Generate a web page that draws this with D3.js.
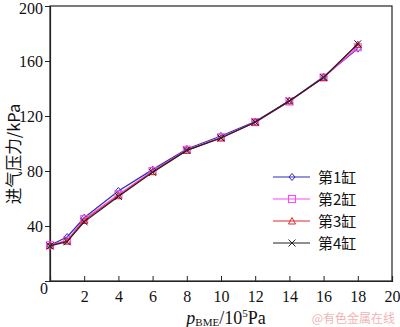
<!DOCTYPE html>
<html><head><meta charset="utf-8">
<script src="https://cdn.jsdelivr.net/npm/d3@7"></script>
<style>body{margin:0;background:#fff}svg{display:block}</style>
</head><body>
<script>
const xValues = [0, 1, 2, 4, 6, 8, 10, 12, 14, 16, 18];
const cyl1 = [26, 32, 46, 65.5, 81, 96, 105.5, 116, 131, 148.5, 169];
const cyl2 = [26, 29.5, 45, 63, 80, 95.5, 104.5, 115.5, 130.5, 148, 170];
const cyl3 = [26, 29, 44, 62, 79.5, 95, 104, 115.5, 131, 148, 172];
const cyl4 = [25.5, 28.5, 43, 61.5, 79, 95, 104, 115.5, 131, 148, 172.5];
const seriesNames = ["第1缸", "第2缸", "第3缸", "第4缸"];
const xTicks = [2, 4, 6, 8, 10, 12, 14, 16, 18, 20];
const yTicks = [40, 80, 120, 160, 200];

const W = 400, H = 327;
const L = 50, R = 392, T = 6, B = 281;
const svg = d3.select("body").append("svg").attr("width", W).attr("height", H);
const x = d3.scaleLinear().domain([0, 20]).range([L, R]);
const y = d3.scaleLinear().domain([0, 200]).range([B, T]);
const serif = "'Liberation Serif','Times New Roman',serif";

const styles = [
  {color: "#2b2bbf", marker: "diamond"},
  {color: "#ff44ff", marker: "square"},
  {color: "#e02a2a", marker: "triangle"},
  {color: "#222222", marker: "cross"}
];
const data = [cyl1, cyl2, cyl3, cyl4];

// frame
svg.append("rect").attr("x", L).attr("y", T).attr("width", R - L).attr("height", B - T)
  .attr("fill", "none").attr("stroke", "#222").attr("stroke-width", 1.2);

// x axis (ticks inward)
const xAxis = svg.append("g").attr("transform", `translate(0,${B})`)
  .call(d3.axisBottom(x).tickValues(xTicks).tickSize(-5).tickPadding(10).tickFormat(d3.format("d")));
xAxis.select(".domain").attr("stroke", "#222").attr("stroke-width", 1.2);
xAxis.selectAll(".tick line").attr("stroke", "#222");
xAxis.selectAll(".tick text").attr("font-family", serif).attr("font-size", 16).attr("fill", "#111");

// y axis (ticks outward)
const yAxis = svg.append("g").attr("transform", `translate(${L},0)`)
  .call(d3.axisLeft(y).tickValues(yTicks).tickSize(5).tickPadding(2).tickFormat(d3.format("d")));
yAxis.select(".domain").attr("stroke", "#222").attr("stroke-width", 1.2);
yAxis.selectAll(".tick line").attr("stroke", "#222");
yAxis.selectAll(".tick text").attr("font-family", serif).attr("font-size", 16).attr("fill", "#111");
yAxis.selectAll(".tick text").filter(d => d === 200).attr("dy", "0.45em");

// origin label
svg.append("text").attr("x", 44).attr("y", 294).attr("text-anchor", "middle")
  .attr("font-family", serif).attr("font-size", 16).attr("fill", "#111").text("0");

function drawMarker(g, type, cx, cy, color) {
  if (type === "diamond") {
    g.append("path").attr("d", `M${cx},${cy-3.5}L${cx+3},${cy}L${cx},${cy+3.5}L${cx-3},${cy}Z`)
      .attr("fill", "none").attr("stroke", color).attr("stroke-width", 1);
  } else if (type === "square") {
    g.append("rect").attr("x", cx - 3.5).attr("y", cy - 3.5).attr("width", 7).attr("height", 7)
      .attr("fill", "none").attr("stroke", color).attr("stroke-width", 1);
  } else if (type === "triangle") {
    g.append("path").attr("d", `M${cx},${cy-3.5}L${cx+3.5},${cy+3}L${cx-3.5},${cy+3}Z`)
      .attr("fill", "none").attr("stroke", color).attr("stroke-width", 1);
  } else {
    g.append("path").attr("d", `M${cx-3.5},${cy-3.5}L${cx+3.5},${cy+3.5}M${cx-3.5},${cy+3.5}L${cx+3.5},${cy-3.5}`)
      .attr("fill", "none").attr("stroke", color).attr("stroke-width", 1);
  }
}

const line = d3.line().x((d, i) => x(xValues[i])).y(d => y(d));
data.forEach((vals, si) => {
  const g = svg.append("g");
  g.append("path").datum(vals).attr("d", line).attr("fill", "none")
    .attr("stroke", styles[si].color).attr("stroke-width", 1.2);
  vals.forEach((v, i) => drawMarker(g, styles[si].marker, x(xValues[i]), y(v), styles[si].color));
});

// legend
const legY0 = 177, legDy = 22;
seriesNames.forEach((name, i) => {
  const yy = legY0 + i * legDy;
  const g = svg.append("g");
  g.append("line").attr("x1", 273).attr("x2", 310).attr("y1", yy).attr("y2", yy)
    .attr("stroke", styles[i].color).attr("stroke-width", 1.2);
  drawMarker(g, styles[i].marker, 292, yy, styles[i].color);
  g.append("text").attr("x", 318).attr("y", yy + 5.5).attr("font-family", "'Noto Sans CJK SC'," + serif)
    .attr("font-size", 15).attr("fill", "#111").text(name);
});

// y title
svg.append("text").attr("transform", "translate(20,154) rotate(-90)").attr("text-anchor", "middle")
  .attr("font-family", "'Noto Sans CJK SC'," + serif).attr("font-size", 16.5).attr("fill", "#111")
  .text("进气压力/kPa");

// x title
const xt = svg.append("text").attr("x", 226).attr("y", 324).attr("text-anchor", "middle")
  .attr("font-family", serif).attr("font-size", 18).attr("fill", "#111");
xt.append("tspan").attr("font-style", "italic").text("p");
xt.append("tspan").attr("font-size", 11).attr("dy", 2).text("BME");
xt.append("tspan").attr("dy", -2).text("/10");
xt.append("tspan").attr("font-size", 11).attr("dy", -7).text("5");
xt.append("tspan").attr("dy", 7).text("Pa");

// watermark
svg.append("text").attr("x", 395).attr("y", 323).attr("text-anchor", "end")
  .attr("font-family", "'Noto Sans CJK SC',sans-serif").attr("font-size", 12).attr("fill", "#f0b4b4")
  .text("@有色金属在线");
</script>
</body></html>
